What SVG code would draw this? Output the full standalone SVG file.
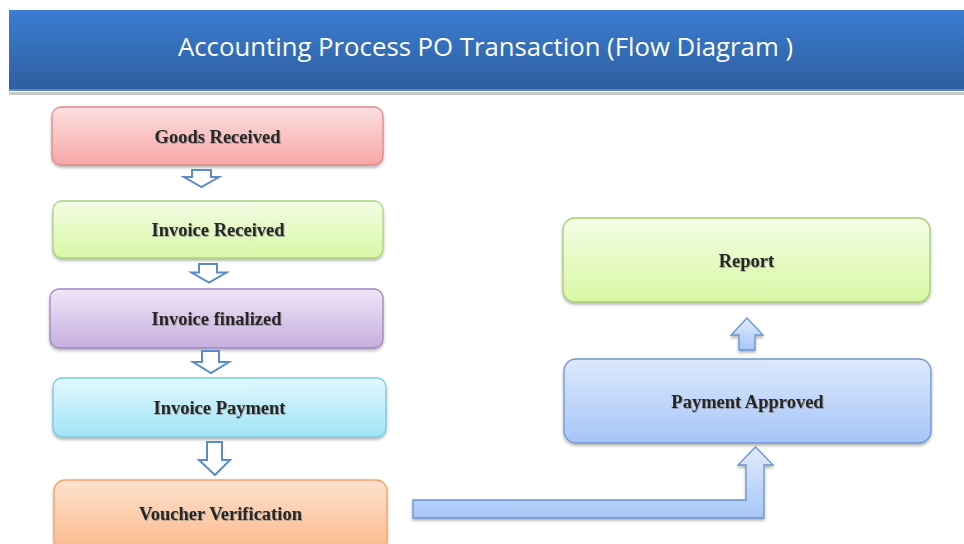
<svg xmlns="http://www.w3.org/2000/svg" width="964" height="544" viewBox="0 0 964 544">
  <defs>
    <linearGradient id="gHeader" x1="0" y1="0" x2="0" y2="1">
      <stop offset="0" stop-color="#3b7dd1"/>
      <stop offset="1" stop-color="#2d5e9f"/>
    </linearGradient>
    <linearGradient id="gRed" x1="0" y1="0" x2="0" y2="1">
      <stop offset="0" stop-color="#fde0e0"/>
      <stop offset="1" stop-color="#f6a6a6"/>
    </linearGradient>
    <linearGradient id="gGreen" x1="0" y1="0" x2="0" y2="1">
      <stop offset="0" stop-color="#f4fde6"/>
      <stop offset="1" stop-color="#d7f7a4"/>
    </linearGradient>
    <linearGradient id="gPurple" x1="0" y1="0" x2="0" y2="1">
      <stop offset="0" stop-color="#efe6f7"/>
      <stop offset="1" stop-color="#c7aedf"/>
    </linearGradient>
    <linearGradient id="gCyan" x1="0" y1="0" x2="0" y2="1">
      <stop offset="0" stop-color="#e2f8fe"/>
      <stop offset="1" stop-color="#9fe4f7"/>
    </linearGradient>
    <linearGradient id="gOrange" x1="0" y1="0" x2="0" y2="1">
      <stop offset="0" stop-color="#fde2cf"/>
      <stop offset="1" stop-color="#fbb98a"/>
    </linearGradient>
    <linearGradient id="gBlue" x1="0" y1="0" x2="0" y2="1">
      <stop offset="0" stop-color="#dde9fc"/>
      <stop offset="1" stop-color="#a5c5f8"/>
    </linearGradient>
    <linearGradient id="gArrow" x1="0" y1="0" x2="0" y2="1">
      <stop offset="0" stop-color="#e2ecfc"/>
      <stop offset="1" stop-color="#a6c6f8"/>
    </linearGradient>
    <filter id="shadow" x="-5%" y="-10%" width="110%" height="130%">
      <feDropShadow dx="0" dy="2" stdDeviation="1.5" flood-color="#000" flood-opacity="0.3"/>
    </filter>
    <filter id="tshadow" x="-5%" y="-20%" width="110%" height="150%">
      <feDropShadow dx="0.8" dy="0.8" stdDeviation="0.5" flood-color="#777" flood-opacity="0.7"/>
    </filter>
  </defs>
  <style>
    .box { stroke-width: 1.3; filter: url(#shadow); }
    .lbl { font-family: "Liberation Serif", "DejaVu Serif", serif; font-weight: bold; font-size: 18.5px; fill: #262626; text-anchor: middle; filter: url(#tshadow); }
    .hollow { fill: #ffffff; stroke: #5b8bc9; stroke-width: 2; stroke-linejoin: miter; }
    .solid { fill: url(#gArrow); stroke: #6b93cf; stroke-width: 1.3; filter: url(#shadow); }
  </style>
  <rect width="964" height="544" fill="#ffffff"/>

  <g id="header">
    <rect x="9" y="92" width="955" height="3" fill="#c8c8c8"/>
    <rect x="9" y="10" width="955" height="80" fill="url(#gHeader)"/>
    <rect x="9" y="89" width="955" height="2" fill="#5d86bf"/>
    <text x="485.5" y="56" font-family="'Open Sans', 'Noto Sans', sans-serif" font-size="25" fill="#ffffff" text-anchor="middle" textLength="615" lengthAdjust="spacingAndGlyphs">Accounting Process PO Transaction (Flow Diagram )</text>
  </g>

  <g id="goods-received">
    <rect class="box" x="52" y="107" width="331" height="58" rx="9" fill="url(#gRed)" stroke="#e08888"/>
    <text class="lbl" x="217.5" y="142.5">Goods Received</text>
  </g>
  <g id="invoice-received">
    <rect class="box" x="53" y="201" width="330" height="57" rx="9" fill="url(#gGreen)" stroke="#a9d37c"/>
    <text class="lbl" x="218" y="236">Invoice Received</text>
  </g>
  <g id="invoice-finalized">
    <rect class="box" x="50" y="289" width="333" height="59" rx="9" fill="url(#gPurple)" stroke="#9d86c0"/>
    <text class="lbl" x="216.5" y="325">Invoice finalized</text>
  </g>
  <g id="invoice-payment">
    <rect class="box" x="53" y="378" width="333" height="59" rx="9" fill="url(#gCyan)" stroke="#7ec7dd"/>
    <text class="lbl" x="219.5" y="414">Invoice Payment</text>
  </g>
  <g id="voucher-verification">
    <rect class="box" x="54" y="480" width="333" height="72" rx="11" fill="url(#gOrange)" stroke="#f2a466"/>
    <text class="lbl" x="220.5" y="520">Voucher Verification</text>
  </g>
  <g id="report">
    <rect class="box" x="563" y="218" width="367" height="84" rx="12" fill="url(#gGreen)" stroke="#a9cb74"/>
    <text class="lbl" x="746.5" y="266.5">Report</text>
  </g>
  <g id="payment-approved">
    <rect class="box" x="564" y="359" width="367" height="84" rx="12" fill="url(#gBlue)" stroke="#6f97d3"/>
    <text class="lbl" x="747.5" y="408">Payment Approved</text>
  </g>

  <g id="connectors">
    <path class="hollow" d="M192,170 L211,170 L211,177 L219,177 L201.5,187 L184,177 L192,177 Z"/>
    <path class="hollow" d="M199,264 L217,264 L217,272.5 L226.5,272.5 L209,282.5 L191.5,272.5 L199,272.5 Z"/>
    <path class="hollow" d="M202,351 L219,351 L219,362 L229,362 L211,373 L193,362 L202,362 Z"/>
    <path class="hollow" d="M207,442 L222,442 L222,460 L230,460 L215,475 L199,460 L207,460 Z"/>
    <path class="solid" d="M739,350 L739,335 L731,335 L747,318 L763,335 L755,335 L755,350 Z"/>
    <path class="solid" d="M413,500 L746,500 L746,465 L738,465 L755.5,447 L773,465 L764,465 L764,518 L413,518 Z"/>
  </g>
</svg>
